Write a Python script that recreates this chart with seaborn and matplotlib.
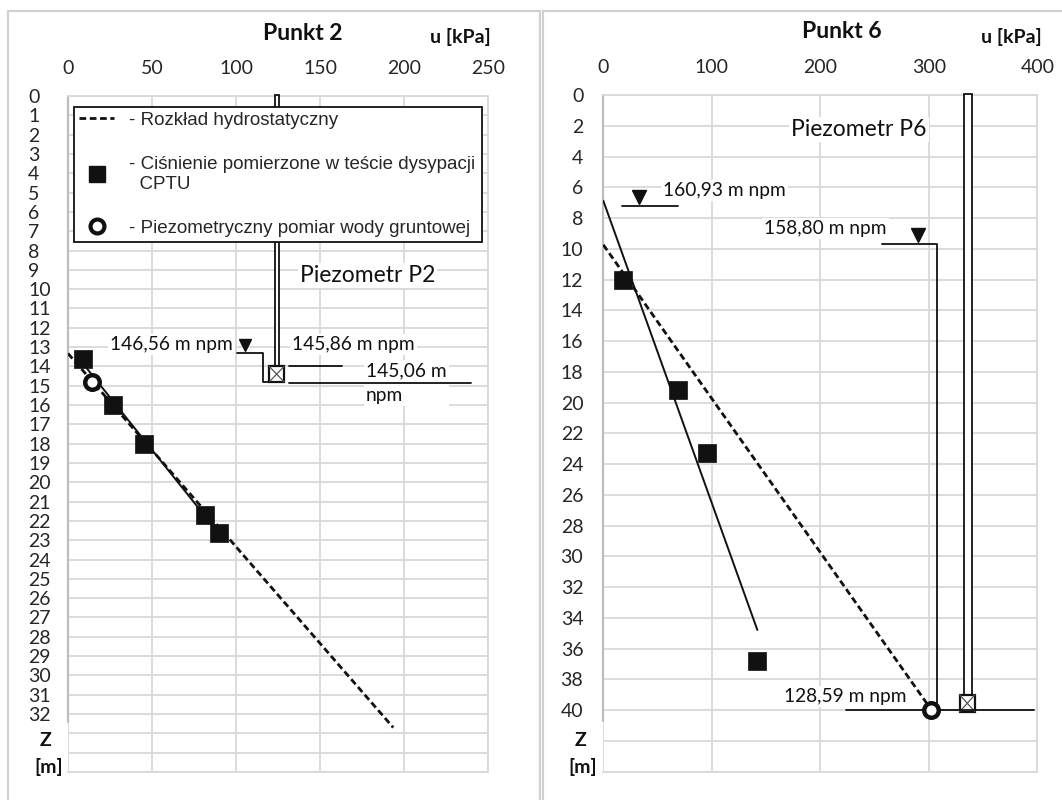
import numpy as np
import pandas as pd
import matplotlib
matplotlib.use("Agg")
import matplotlib.pyplot as plt
import seaborn as sns
from matplotlib.patches import Rectangle
from matplotlib.lines import Line2D

# Punkt 2
p2_cptu_u = [8.7, 27.0, 45.4, 81.7, 89.9]
p2_cptu_z = [13.6, 16.0, 18.0, 21.7, 22.6]
p2_piezo_u = [14.5]
p2_piezo_z = [14.8]
p2_hydro_u = [0.0, 193.6]
p2_hydro_z = [13.33, 32.7]

# Punkt 6
p6_cptu_u = [17.9, 68.8, 95.9, 142.0]
p6_cptu_z = [12.0, 19.2, 23.3, 36.8]
p6_piezo_u = [302.0]
p6_piezo_z = [40.0]
p6_hydro_u = [0.0, 302.6]
p6_hydro_z = [9.74, 40.0]

p2_ticks_u = [0, 50, 100, 150, 200, 250]
p2_ticks_z = list(range(0, 36))
p6_ticks_u = [0, 100, 200, 300, 400]
p6_ticks_z = list(range(0, 45, 2))

sns.set_style("white")
plt.rcParams['font.family'] = ['Lato', 'DejaVu Sans']

W, H = 1062, 800
fig = plt.figure(figsize=(W / 100, H / 100), dpi=100)
GRID = '#d9d9d9'
BLACK = '#111111'
TICK_FS = 14

# panel frames
for x0, x1 in [(8, 540), (543, 1070)]:
    fig.add_artist(Rectangle((x0 / W, -0.01), (x1 - x0) / W, 1.01 - 11 / H,
                             transform=fig.transFigure, fill=False,
                             edgecolor='#d0d0d0', lw=1.5))

ax1 = fig.add_axes([68 / W, 1 - 772 / H, 420 / W, 676 / H])
ax2 = fig.add_axes([603.3 / W, 1 - 771.7 / H, 434 / W, 676.7 / H])


def style_axes(ax, xt, yt, ylabels, ymax, xmax, ha, pad, axis_end):
    ax.set_xlim(0, xmax)
    ax.set_ylim(ymax, 0)
    ax.set_xticks(xt)
    ax.set_yticks(yt)
    ax.set_yticklabels(ylabels, ha=ha)
    ax.xaxis.tick_top()
    ax.tick_params(axis='x', length=0, pad=14, labelsize=TICK_FS)
    ax.tick_params(axis='y', length=0, pad=pad, labelsize=TICK_FS)
    ax.grid(True, color=GRID, lw=1.3)
    ax.set_axisbelow(True)
    for s in ax.spines.values():
        s.set_color(GRID)
        s.set_linewidth(1.3)
    ax.spines['left'].set_visible(False)
    ax.plot([0, 0], [0, axis_end], color='#bdbdbd', lw=1.6, zorder=1, clip_on=False)
    ax.set_xlabel('')
    ax.set_ylabel('')


def draw_data(ax, cu, cz, pu, pz, hu, hz, trend_from_zero):
    cptu = pd.DataFrame({'u': cu, 'z': cz})
    hydro = pd.DataFrame({'u': hu, 'z': hz})
    piezo = pd.DataFrame({'u': pu, 'z': pz})
    # trend line of CPTU pressures (z as a linear function of u)
    a, b = np.polyfit(cptu['u'], cptu['z'], 1)
    u0 = 0.0 if trend_from_zero else cptu['u'].min()
    tu = np.array([u0, cptu['u'].max()])
    trend = pd.DataFrame({'u': tu, 'z': a * tu + b})
    sns.lineplot(data=hydro, x='u', y='z', ax=ax, color=BLACK, lw=2,
                 sort=False, zorder=4).lines[-1].set_dashes((2.4, 1.3))
    sns.lineplot(data=trend, x='u', y='z', ax=ax, color=BLACK, lw=1.4,
                 sort=False, zorder=4)
    sns.scatterplot(data=cptu, x='u', y='z', ax=ax, marker='s', s=150,
                    color=BLACK, edgecolor=BLACK, linewidth=0.5, zorder=5, legend=False)
    sns.scatterplot(data=piezo, x='u', y='z', ax=ax, marker='o', s=110,
                    facecolor='white', edgecolor=BLACK, linewidth=3.2, zorder=6, legend=False)


def piezometer(ax, u0, u1, z_box, bu0, bu1, bz1):
    ax.add_patch(Rectangle((u0, -0.05), u1 - u0, z_box + 0.05, facecolor='white',
                           edgecolor=BLACK, lw=1.3, zorder=3, clip_on=False))
    ax.add_patch(Rectangle((bu0, z_box), bu1 - bu0, bz1 - z_box, facecolor='white',
                           edgecolor=BLACK, lw=1.6, zorder=3))
    ax.plot([bu0, bu1], [z_box, bz1], color='#555555', lw=0.9, zorder=3)
    ax.plot([bu0, bu1], [bz1, z_box], color='#555555', lw=0.9, zorder=3)


txt = dict(fontsize=13.8, va='center', color=BLACK, zorder=3,
           bbox=dict(facecolor='white', edgecolor='none', pad=1.5))

# ---- Punkt 2
draw_data(ax1, p2_cptu_u, p2_cptu_z, p2_piezo_u, p2_piezo_z, p2_hydro_u, p2_hydro_z, False)
style_axes(ax1, p2_ticks_u, p2_ticks_z,
           [str(z) if z <= 32 else '' for z in p2_ticks_z], 35, 250, 'left', 28.8, 32.4)
piezometer(ax1, 123.4, 125.4, 14.0, 119.8, 128.6, 14.8)
ax1.plot([100.4, 115.9, 115.9, 119.8], [13.3, 13.3, 14.83, 14.83], color=BLACK, lw=1.3, zorder=4)
ax1.plot([105.4], [12.9], marker='v', ms=9, color=BLACK, zorder=4)
ax1.plot([131.4, 163.3], [14.0, 14.0], color=BLACK, lw=1.3, zorder=4)
ax1.plot([131.4, 240.0], [14.85, 14.85], color=BLACK, lw=1.3, zorder=4)
ax1.text(98, 12.85, '146,56 m npm', ha='right', **txt)
ax1.text(133.5, 12.85, '145,86 m npm', ha='left', **txt)
ax1.text(177.4, 14.85, '145,06 m\nnpm', ha='left', linespacing=1.55, **txt)
ax1.text(138, 9.3, 'Piezometr P2', ha='left', **{**txt, 'fontsize': 16.5})

handles = [Line2D([0], [0], color=BLACK, lw=2, ls=(0, (2.4, 1.3))),
           Line2D([0], [0], color=BLACK, ls='none', marker='s', ms=12),
           Line2D([0], [0], color=BLACK, ls='none', marker='o', ms=10,
                  markerfacecolor='white', mew=3)]
labels = ['- Rozkład hydrostatyczny',
          '- Ciśnienie pomierzone w teście dysypacji\n  CPTU',
          '- Piezometryczny pomiar wody gruntowej']
leg = ax1.legend(handles, labels, loc='upper left',
                 bbox_to_anchor=(0.0143, 0.70, 0.9714, 0.2837), mode='expand',
                 borderaxespad=0, frameon=True, fancybox=False, framealpha=1,
                 edgecolor=BLACK, prop={'family': 'Liberation Sans', 'size': 13.5},
                 handlelength=1.9, handletextpad=0.8, labelspacing=1.45, borderpad=0.25)
leg.get_frame().set_linewidth(1.3)
leg.set_zorder(7)

# ---- Punkt 6
draw_data(ax2, p6_cptu_u, p6_cptu_z, p6_piezo_u, p6_piezo_z, p6_hydro_u, p6_hydro_z, True)
style_axes(ax2, p6_ticks_u, p6_ticks_z,
           [str(z) if z <= 40 else '' for z in p6_ticks_z], 44, 400, 'right', 14.4, 40.7)
piezometer(ax2, 332.4, 339.8, 39.0, 328.4, 342.5, 40.1)
ax2.plot([17.5, 68.6], [7.2, 7.2], color=BLACK, lw=1.3, zorder=4)
ax2.plot([32.9], [6.65], marker='v', ms=10, color=BLACK, zorder=4)
ax2.plot([257.0, 307.3, 307.3], [9.7, 9.7, 40.0], color=BLACK, lw=1.3, zorder=4)
ax2.plot([289.8], [9.1], marker='v', ms=10, color=BLACK, zorder=4)
ax2.plot([223.5, 397.0], [40.0, 40.0], color=BLACK, lw=1.3, zorder=4)
ax2.text(55.3, 6.2, '160,93 m npm', ha='left', **txt)
ax2.text(261, 8.7, '158,80 m npm', ha='right', **txt)
ax2.text(279.6, 39.1, '128,59 m npm', ha='right', **txt)
ax2.text(173, 2.27, 'Piezometr P6', ha='left', **{**txt, 'fontsize': 16.5})

# titles and axis captions
bold = dict(fontweight='bold', color=BLACK, ha='center', va='center')
fig.text(302.5 / W, 1 - 33 / H, 'Punkt 2', fontsize=16.5, **bold)
fig.text(841.7 / W, 1 - 32 / H, 'Punkt 6', fontsize=16.5, **bold)
fig.text(460.5 / W, 1 - 37 / H, 'u [kPa]', fontsize=14, **bold)
fig.text(1011.4 / W, 1 - 37 / H, 'u [kPa]', fontsize=14, **bold)
for xz, xm in [(46, 49), (580.7, 583)]:
    fig.text(xz / W, 1 - 740 / H, 'Z', fontsize=14, **bold)
    fig.text(xm / W, 1 - 767 / H, '[m]', fontsize=14, **bold)

fig.savefig('out.png', dpi=100, facecolor='white')
